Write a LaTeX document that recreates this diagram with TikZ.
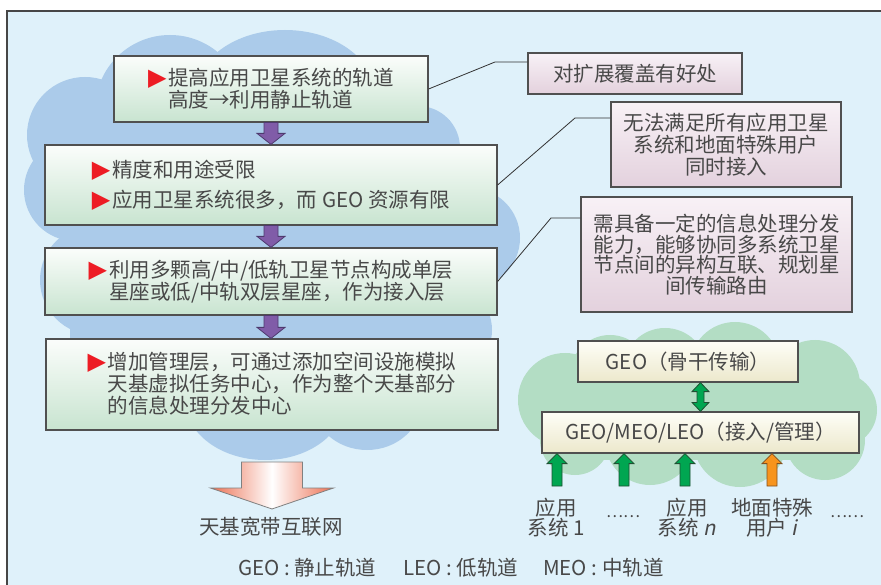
\documentclass[tikz,border=0pt]{standalone}
\usepackage{fontspec}
\setmainfont{Noto Sans CJK SC}
\newfontfamily\dejavu{DejaVu Sans}
\newfontfamily\itfont{Noto Sans CJK SC}[FakeSlant=0.2]
\usetikzlibrary{calc}
\definecolor{bgblue}{RGB}{223,241,250}
\definecolor{framecol}{RGB}{70,70,70}
\definecolor{cloudblue}{RGB}{171,203,234}
\definecolor{cloudgreen}{RGB}{179,221,196}
\definecolor{gtop}{RGB}{251,253,251}
\definecolor{gbot}{RGB}{200,228,208}
\definecolor{ptop}{RGB}{248,241,246}
\definecolor{pbot}{RGB}{227,209,221}
\definecolor{ytop}{RGB}{254,254,247}
\definecolor{ybot}{RGB}{236,232,204}
\definecolor{boxline}{RGB}{80,80,80}
\definecolor{linecol}{RGB}{50,50,50}
\definecolor{txtgray}{RGB}{72,72,72}
\definecolor{tricol}{RGB}{237,28,36}
\definecolor{purp}{RGB}{128,92,168}
\definecolor{purpline}{RGB}{78,58,110}
\definecolor{grn}{RGB}{0,166,81}
\definecolor{grnline}{RGB}{30,80,50}
\definecolor{org}{RGB}{247,148,29}
\definecolor{orgline}{RGB}{130,80,30}
\definecolor{salmon}{RGB}{236,112,82}
\newcommand\tri{{\color{tricol}\dejavu\fontsize{24}{20}\selectfont ▶}\hspace{2pt}}
\newcommand\ntri{\phantom{\tri}}
\newcommand\fatdown[6]{\draw[#1] ($(#2)+(-#4,0)$) -- ($(#3)+(-#4,-#6)$) -- ($(#3)+(-#5,-#6)$) -- (#3) -- ($(#3)+(#5,-#6)$) -- ($(#3)+(#4,-#6)$) -- ($(#2)+(#4,0)$) -- cycle;}
\newcommand\fatup[6]{\draw[#1] ($(#2)+(-#4,0)$) -- ($(#3)+(-#4,#6)$) -- ($(#3)+(-#5,#6)$) -- (#3) -- ($(#3)+(#5,#6)$) -- ($(#3)+(#4,#6)$) -- ($(#2)+(#4,0)$) -- cycle;}
\tikzset{
  every node/.style={text=txtgray, font=\fontsize{20.5}{22}\selectfont, inner sep=0pt},
  gbox/.style={draw=boxline, line width=1.2pt, top color=gtop, bottom color=gbot, align=left},
  pbox/.style={draw=boxline, line width=1.2pt, top color=ptop, bottom color=pbot, align=center},
  ybox/.style={draw=boxline, line width=1.2pt, top color=ytop, bottom color=ybot, align=center},
  link/.style={draw=linecol, line width=0.8pt},
  purplearrow/.style={fill=purp, draw=purpline, line width=0.8pt},
  greenarrow/.style={fill=grn, draw=grnline, line width=0.8pt},
  orangearrow/.style={fill=org, draw=orgline, line width=0.8pt},
  bigarrow/.style={left color=salmon, right color=salmon, middle color=white, draw=gray, line width=0.8pt},
  label/.style={align=center, font=\fontsize{20.5}{20}\selectfont},
}
\begin{document}
\begin{tikzpicture}[x=1pt,y=-1pt]
\useasboundingbox (0,0) rectangle (881,585);
\clip (0,0) rectangle (881,585);
\fill[white] (0,0) rectangle (881,585);
\fill[bgblue] (7,11) rectangle (890,600);
\draw[framecol, line width=1.3pt] (7,600) -- (7,11) -- (890,11);

% blue cloud
\begin{scope}[cloudblue]
\fill (85,135) circle[radius=58pt];
\fill (170,110) circle[radius=75pt];
\fill (285,95) ellipse[x radius=90pt, y radius=65pt];
\fill (418,148) circle[radius=42pt];
\fill (75,190) circle[radius=51pt];
\fill (95,280) circle[radius=55pt];
\fill (130,350) circle[radius=55pt];
\fill (470,238) circle[radius=50pt];
\fill (445,330) circle[radius=47pt];
\fill (265,400) ellipse[x radius=80pt, y radius=60pt];
\fill (367,400) ellipse[x radius=55pt, y radius=50pt];
\fill (70,120) rectangle (450,430);
\end{scope}

% green cloud
\begin{scope}[cloudgreen]
\fill (565,400) circle[radius=47pt];
\fill (610,375) circle[radius=40pt];
\fill (665,370) circle[radius=42pt];
\fill (735,367) circle[radius=45pt];
\fill (815,385) circle[radius=45pt];
\fill (840,410) circle[radius=37pt];
\fill (575,440) circle[radius=35pt];
\fill (650,440) circle[radius=45pt];
\fill (740,440) circle[radius=47pt];
\fill (825,440) circle[radius=40pt];
\fill (560,360) rectangle (850,460);
\end{scope}

% left boxes
\node[gbox, minimum width=314pt, minimum height=66pt] (b1) at (271,89)
  {\tri 提高应用卫星系统的轨道\\\ntri 高度→利用静止轨道};
\node[gbox, minimum width=452pt, minimum height=80pt] (b2) at (271,185)
  {\tri 精度和用途受限\\[8pt]\tri 应用卫星系统很多，而 GEO 资源有限};
\node[gbox, minimum width=452pt, minimum height=67pt] (b3) at (271,281.5)
  {\tri 利用多颗高/中/低轨卫星节点构成单层\\\ntri 星座或低/中轨双层星座，作为接入层};
\node[gbox, minimum width=452pt, minimum height=91pt, font=\fontsize{20.5}{22}\selectfont] (b4) at (272,384.5)
  {\tri 增加管理层，可通过添加空间设施模拟\\\ntri 天基虚拟任务中心，作为整个天基部分\\\ntri 的信息处理分发中心};

% right boxes
\node[pbox, minimum width=214pt, minimum height=41pt] (A) at (635,73.5) {对扩展覆盖有好处};
\node[pbox, minimum width=230pt, minimum height=85pt] (B) at (726,144.5)
  {无法满足所有应用卫星\\系统和地面特殊用户\\同时接入};
\node[pbox, minimum width=271pt, minimum height=115pt, font=\fontsize{20.5}{20.7}\selectfont] (C) at (716.5,254.5)
  {需具备一定的信息处理分发\\能力，能够协同多系统卫星\\节点间的异构互联、规划星\\间传输路由};

% connectors
\coordinate (k1) at (495,62);
\draw[link] (b1.east) -- (k1) -- (k1 -| A.west);
\coordinate (k2) at (575,118);
\draw[link] (b2.east) -- (k2) -- (k2 -| B.west);
\coordinate (k3) at (551,218);
\draw[link] (b3.east) -- (k3) -- (k3 -| C.west);

% purple arrows
\coordinate (t1) at (b1.south |- b2.north);
\coordinate (t2) at (b2.south |- b3.north);
\coordinate (t3) at (b3.south |- b4.north);
\fatdown{purplearrow}{b1.south}{t1}{7}{14}{11}
\fatdown{purplearrow}{b2.south}{t2}{7}{14}{11}
\fatdown{purplearrow}{b3.south}{t3}{7}{14}{11}

% big arrow and label
\node (net) at (271,527) {天基宽带互联网};
\coordinate (bigtop) at (272,462);
\coordinate (bigtip) at (272,509);
\fatdown{bigarrow}{bigtop}{bigtip}{30.5}{61.5}{21}

% green cloud boxes
\node[ybox, minimum width=220pt, minimum height=41pt] (geo) at (688,361.5) {GEO（骨干传输）};
\node[ybox, minimum width=317pt, minimum height=41pt] (acc) at (700.5,432.5) {GEO/MEO/LEO（接入/管理）};

\coordinate (dt) at (acc.north |- geo.south);
\draw[greenarrow] (dt) -- ++(8.5,9) -- ++(-5,0) -- ($(acc.north)+(3.5,-9)$) -- ++(5,0) -- (acc.north)
  -- ++(-8.5,-9) -- ++(5,0) -- ($(dt)+(-3.5,9)$) -- ++(-5,0) -- cycle;

\coordinate (u1) at (557,486);
\coordinate (u2) at (624,486);
\coordinate (u3) at (685,486);
\coordinate (u4) at (772,486);
\coordinate (u1t) at (u1 |- acc.south);
\coordinate (u2t) at (u2 |- acc.south);
\coordinate (u3t) at (u3 |- acc.south);
\coordinate (u4t) at (u4 |- acc.south);
\fatup{greenarrow}{u1}{u1t}{5}{10}{10}
\fatup{greenarrow}{u2}{u2t}{5}{10}{10}
\fatup{greenarrow}{u3}{u3t}{5}{10}{10}
\fatup{orangearrow}{u4}{u4t}{5}{10}{10}

% bottom labels
\node[label] (l1) at (556,518) {应用\\系统 1};
\node[font=\fontsize{16}{16}\selectfont] (d1) at (623,517) {……};
\node[label] (l2) at (687,518) {应用\\系统 {\itfont n}};
\node[label] (l3) at (772,518) {地面特殊\\用户 {\itfont i}};
\node[font=\fontsize{16}{16}\selectfont] (d2) at (847,517) {……};

% legend
\node[anchor=west] (leg1) at (238,568) {GEO : 静止轨道};
\node[anchor=west] (leg2) at (403,568) {LEO : 低轨道};
\node[anchor=west] (leg3) at (543,568) {MEO : 中轨道};
\end{tikzpicture}
\end{document}
